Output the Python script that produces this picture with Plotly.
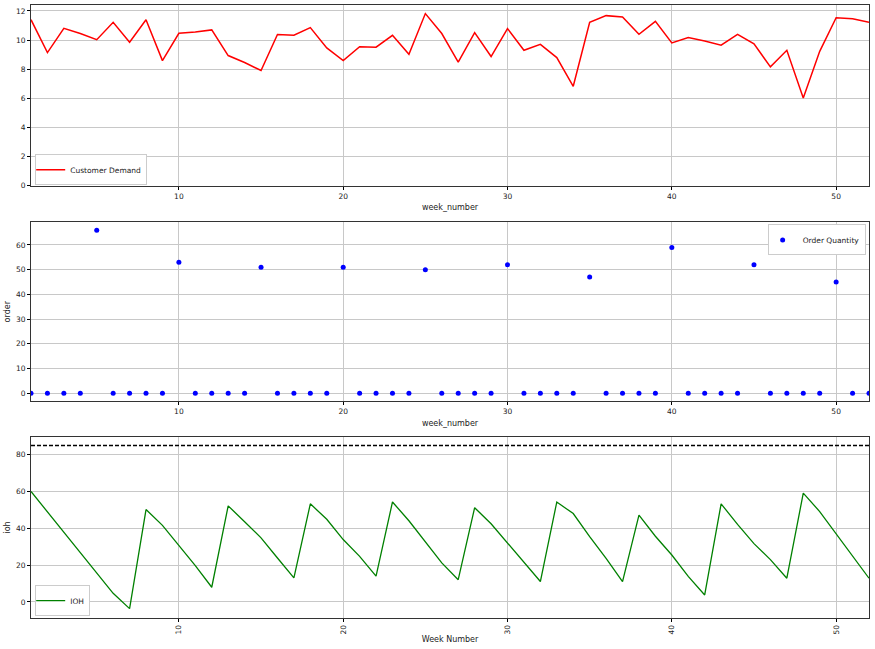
""" Weekly demand, ordering and inventory-on-hand overview.
"""
import plotly

weeks = list(range(1, 53))

customer_demand = [
    11.4, 9.14, 10.81, 10.45, 10.03, 11.22, 9.85, 11.4, 8.59, 10.47,
    10.56, 10.7, 8.94, 8.46, 7.91, 10.38, 10.33, 10.86, 9.46, 8.59,
    9.55, 9.51, 10.33, 9.03, 11.82, 10.45, 8.48, 10.51, 8.87, 10.79,
    9.30, 9.71, 8.8, 6.83, 11.22, 11.68, 11.59, 10.4, 11.29, 9.81,
    10.17, 9.94, 9.65, 10.4, 9.74, 8.16, 9.30, 6.03, 9.23, 11.54,
    11.47, 11.22,
]

order_quantity = [
    0, 0, 0, 0, 66, 0, 0, 0, 0, 53,
    0, 0, 0, 0, 51, 0, 0, 0, 0, 51,
    0, 0, 0, 0, 50, 0, 0, 0, 0, 52,
    0, 0, 0, 0, 47, 0, 0, 0, 0, 59,
    0, 0, 0, 0, 52, 0, 0, 0, 0, 45,
    0, 0,
]

ioh = [
    60, 49, 38, 27, 16, 4.7, -3.6, 50.2, 41.6, 30.8,
    19.7, 8.0, 52.2, 43.6, 34.8, 23.9, 13.1, 53.3, 44.9, 33.9,
    24.8, 14.0, 54.3, 44.1, 32.5, 21.2, 12.1, 51.2, 42.5, 32.1,
    21.7, 11.1, 54.3, 48.0, 35.5, 23.7, 11.1, 47.2, 35.7, 25.5,
    13.9, 3.8, 53.3, 42.1, 31.7, 23.0, 12.9, 59.1, 49.1, 37.0,
    25.0, 12.9,
]

ioh_max = 85

FONT = 'DejaVu Sans'
GRID = '#c8c8c8'

def xaxis(title, anchor, tickangle=0, standoff=4):
    return dict(
        title=dict(text=title, font=dict(size=8), standoff=standoff),
        range=[1, 52],
        tickvals=[10, 20, 30, 40, 50],
        tickangle=tickangle,
        ticks='outside', ticklen=3, tickcolor='black',
        showgrid=True, gridcolor=GRID, gridwidth=1,
        zeroline=False,
        showline=True, linecolor='#333333', linewidth=1, mirror=True,
        anchor=anchor, automargin=False,
        tickfont=dict(size=7.5),
    )

def yaxis(title, rng, dtick, domain, anchor):
    return dict(
        title=dict(text=title, font=dict(size=8), standoff=4),
        range=rng,
        dtick=dtick,
        domain=domain,
        ticks='outside', ticklen=3, tickcolor='black',
        showgrid=True, gridcolor=GRID, gridwidth=1,
        zeroline=False,
        showline=True, linecolor='#333333', linewidth=1, mirror=True,
        anchor=anchor, automargin=False,
        tickfont=dict(size=7.5),
    )

traces = [
    plotly.graph_objs.Scatter(
        x=weeks, y=customer_demand, mode='lines',
        line=dict(color='red', width=1.5),
        name='Customer Demand', xaxis='x', yaxis='y', legend='legend'),
    plotly.graph_objs.Scatter(
        x=weeks, y=order_quantity, mode='markers',
        marker=dict(color='blue', size=5),
        name='Order Quantity', xaxis='x2', yaxis='y2', legend='legend2'),
    plotly.graph_objs.Scatter(
        x=weeks, y=ioh, mode='lines',
        line=dict(color='green', width=1.3),
        name='IOH', xaxis='x3', yaxis='y3', legend='legend3'),
    plotly.graph_objs.Scatter(
        x=[weeks[0], weeks[-1]], y=[ioh_max, ioh_max], mode='lines',
        line=dict(color='black', width=1.5, dash='4px,2px'),
        showlegend=False, hoverinfo='skip', xaxis='x3', yaxis='y3'),
]

legend_style = dict(
    bgcolor='white', bordercolor='#cccccc', borderwidth=1,
    font=dict(size=7.5, color='#222222'), itemwidth=30, indentation=-6,
    xref='paper', yref='paper',
)

layout = plotly.graph_objs.Layout(
    width=875, height=649,
    margin=dict(l=31, r=6, t=5, b=31, autoexpand=False),
    paper_bgcolor='white', plot_bgcolor='white',
    font=dict(family=FONT, size=8, color='#222222'),
    xaxis=xaxis('week_number', 'y'),
    yaxis=yaxis('', [0, 12.41], 2, [0.7052, 1.0], 'x'),
    xaxis2=xaxis('week_number', 'y2'),
    yaxis2=yaxis('order', [-3.3, 69.3], 10, [0.3533, 0.646], 'x2'),
    xaxis3=xaxis('Week Number', 'y3', tickangle=-90, standoff=2),
    yaxis3=yaxis('ioh', [-8.7, 89.6], 20, [0.0, 0.2953], 'x3'),
    legend=dict(x=0.005, y=0.706, xanchor='left', yanchor='bottom', **legend_style),
    legend2=dict(x=0.996, y=0.642, xanchor='right', yanchor='top', **legend_style),
    legend3=dict(x=0.005, y=0.003, xanchor='left', yanchor='bottom', **legend_style),
    hovermode='closest',
)

fig = plotly.graph_objs.Figure(data=traces, layout=layout)
# drop the default page margin so the figure sits flush with the window
fig.write_html("out.html", config={'displayModeBar': False},
               post_script="document.body.style.margin='0';")
